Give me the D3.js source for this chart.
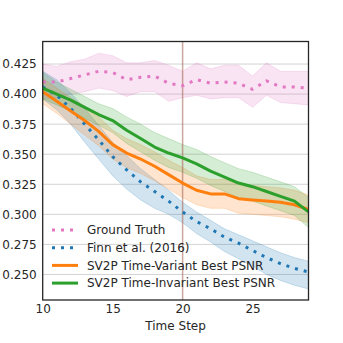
<!DOCTYPE html>
<html>
<head>
<meta charset="utf-8">
<script src="https://cdn.jsdelivr.net/npm/d3@7"></script>
<style>
html,body{margin:0;padding:0;background:#fff;}
svg{display:block;font-family:"DejaVu Sans",sans-serif;}
</style>
</head>
<body>
<svg id="chart" width="343" height="343"></svg>
<script>
const steps = [10,11,12,13,14,15,16,17,18,19,20,21,22,23,24,25,26,27,28,29];

const gtMean  = [0.410,0.410,0.413,0.416,0.419,0.418,0.412,0.414,0.415,0.409,0.407,0.412,0.409,0.410,0.409,0.404,0.411,0.406,0.406,0.405];
const gtLow   = [0.396,0.397,0.400,0.402,0.405,0.403,0.398,0.402,0.402,0.394,0.397,0.399,0.396,0.397,0.397,0.389,0.399,0.393,0.392,0.391];
const gtHigh  = [0.425,0.423,0.427,0.429,0.434,0.432,0.426,0.426,0.428,0.424,0.419,0.426,0.421,0.424,0.424,0.415,0.426,0.419,0.419,0.419];

const finnMean = [0.406,0.399,0.388,0.375,0.362,0.348,0.337,0.327,0.319,0.311,0.302,0.294,0.288,0.281,0.276,0.270,0.264,0.259,0.255,0.252];
const finnLow  = [0.396,0.387,0.375,0.360,0.346,0.332,0.321,0.312,0.305,0.300,0.293,0.284,0.277,0.269,0.263,0.257,0.250,0.245,0.241,0.238];
const finnHigh = [0.419,0.412,0.401,0.388,0.374,0.360,0.349,0.338,0.329,0.320,0.310,0.302,0.295,0.288,0.283,0.278,0.273,0.268,0.264,0.261];

const tvMean = [0.402,0.394,0.386,0.378,0.369,0.358,0.351,0.346,0.340,0.333,0.326,0.320,0.317,0.317,0.313,0.312,0.311,0.310,0.308,0.304];
const tvLow  = [0.392,0.384,0.375,0.366,0.357,0.346,0.339,0.334,0.328,0.321,0.314,0.308,0.305,0.305,0.301,0.300,0.299,0.298,0.296,0.293];
const tvHigh = [0.413,0.405,0.397,0.390,0.381,0.370,0.363,0.358,0.352,0.345,0.339,0.332,0.329,0.329,0.325,0.324,0.323,0.322,0.320,0.316];

const tiMean = [0.405,0.400,0.395,0.389,0.383,0.378,0.370,0.363,0.356,0.351,0.347,0.342,0.336,0.331,0.326,0.323,0.319,0.315,0.311,0.302];
const tiLow  = [0.396,0.391,0.386,0.380,0.374,0.368,0.359,0.352,0.345,0.339,0.335,0.330,0.324,0.319,0.314,0.311,0.307,0.303,0.299,0.289];
const tiHigh = [0.418,0.410,0.404,0.398,0.392,0.388,0.381,0.375,0.368,0.363,0.358,0.354,0.348,0.343,0.338,0.335,0.331,0.327,0.323,0.314];

const yTicks = [0.250,0.275,0.300,0.325,0.350,0.375,0.400,0.425];
const xTicks = [10,15,20,25];
const legendLabels = ["Ground Truth","Finn et al. (2016)","SV2P Time-Variant Best PSNR","SV2P Time-Invariant Best PSNR"];

const series = [
  {name: legendLabels[0], mean: gtMean, low: gtLow, high: gtHigh, color: "#e377c2", dotted: true},
  {name: legendLabels[1], mean: finnMean, low: finnLow, high: finnHigh, color: "#1f77b4", dotted: true},
  {name: legendLabels[2], mean: tvMean, low: tvLow, high: tvHigh, color: "#ff7f0e", dotted: false},
  {name: legendLabels[3], mean: tiMean, low: tiLow, high: tiHigh, color: "#2ca02c", dotted: false}
];

const svg = d3.select("#chart");
const L = 42.7, R = 308.5, T = 41.5, B = 300;
const x = d3.scaleLinear().domain([10,29]).range([L,R]);
const y = d3.scaleLinear().domain([0.22875,0.44375]).range([B,T]);

svg.append("defs").append("clipPath").attr("id","clip")
  .append("rect").attr("x",L).attr("y",T).attr("width",R-L).attr("height",B-T);

// grid
svg.append("g").selectAll("line").data(yTicks).join("line")
  .attr("x1",L).attr("x2",R).attr("y1",d=>y(d)).attr("y2",d=>y(d))
  .attr("stroke","#d3d3d3").attr("stroke-width",1);

const plot = svg.append("g").attr("clip-path","url(#clip)");

const area = d3.area().x((d,i)=>x(steps[i])).y0(d=>y(d[0])).y1(d=>y(d[1]));
const line = d3.line().x((d,i)=>x(steps[i])).y(d=>y(d));

series.forEach(s=>{
  plot.append("path").datum(s.low.map((v,i)=>[v,s.high[i]]))
    .attr("d",area).attr("fill",s.color).attr("fill-opacity",0.2)
    .attr("stroke",s.color).attr("stroke-opacity",0.2).attr("stroke-width",1);
});

// vertical marker at step 20
plot.append("line").attr("x1",x(20)).attr("x2",x(20)).attr("y1",T).attr("y2",B)
  .attr("stroke","#a86a5a").attr("stroke-opacity",0.6).attr("stroke-width",1.5);

series.forEach(s=>{
  plot.append("path").datum(s.mean).attr("d",line).attr("fill","none")
    .attr("stroke",s.color).attr("stroke-width",3)
    .attr("stroke-dasharray",s.dotted?"3,6":null)
    .attr("stroke-linejoin","round");
});

// frame
svg.append("rect").attr("x",L).attr("y",T).attr("width",R-L).attr("height",B-T)
  .attr("fill","none").attr("stroke","#262626").attr("stroke-width",1.3);

const fs = "12px";
const yAxis = d3.axisLeft(y).tickValues(yTicks).tickFormat(d3.format(".3f")).tickSize(0).tickPadding(6);
const gy = svg.append("g").attr("transform",`translate(${L},0)`).call(yAxis);
gy.select(".domain").remove();
gy.selectAll("text").attr("font-size",fs).attr("fill","#262626").attr("font-family","DejaVu Sans");

const xAxis = d3.axisBottom(x).tickValues(xTicks).tickSize(0).tickPadding(4);
const gx = svg.append("g").attr("transform",`translate(0,${B})`).call(xAxis);
gx.select(".domain").remove();
gx.selectAll("text").attr("font-size",fs).attr("fill","#262626").attr("font-family","DejaVu Sans");

svg.append("text").attr("x",(L+R)/2).attr("y",329.5).attr("text-anchor","middle")
  .attr("font-size",fs).attr("fill","#262626").text("Time Step");

// legend
const lg = svg.append("g");
series.forEach((s,i)=>{
  const yy = 230 + i*17.7;
  lg.append("line").attr("x1",52).attr("x2",78).attr("y1",yy).attr("y2",yy)
    .attr("stroke",s.color).attr("stroke-width",3)
    .attr("stroke-dasharray",s.dotted?"3,6":null);
  lg.append("text").attr("x",87).attr("y",yy).attr("dy","0.35em")
    .attr("font-size",fs).attr("fill","#262626").text(s.name);
});
</script>
</body>
</html>
